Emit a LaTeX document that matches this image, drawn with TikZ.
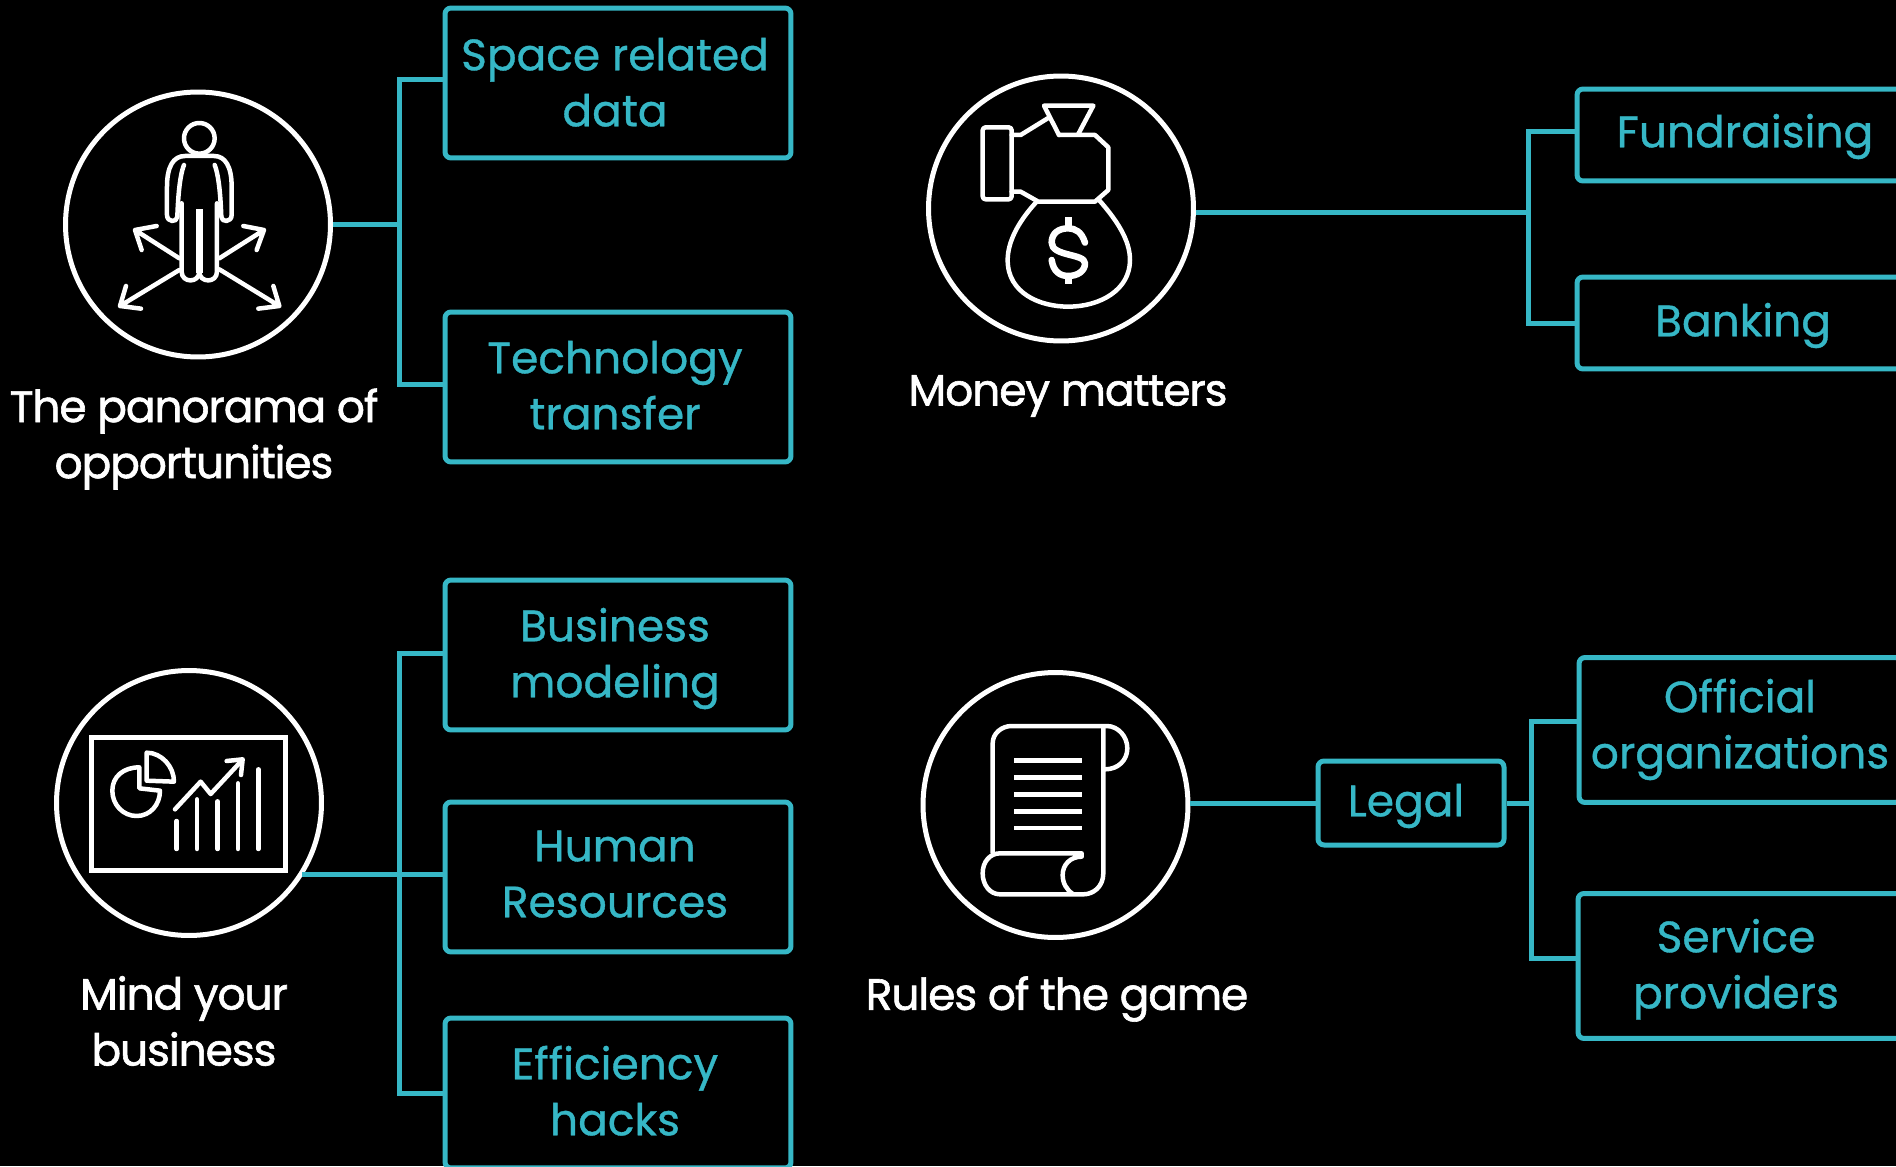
\documentclass[tikz,border=0pt]{standalone}
\usepackage{fontspec}
\setmainfont{Poppins}[RawFeature={embolden=0.8}]
\newfontfamily\capfont{Poppins}[LetterSpace=-2.5, RawFeature={embolden=1.4}]
\definecolor{teal}{HTML}{36B7C6}
\newdimen\px \px=0.02cm
% text of a box, moved right and up from the middle of the box
\newcommand{\nudged}[3]{\raisebox{#2\px}[0pt][0pt]{\makebox[0pt]{\hspace*{#1\px}\hspace*{#1\px}\begin{tabular}{@{}c@{}}#3\end{tabular}}}}
\tikzset{
	box/.style={draw=teal, text=teal, line width=0.1cm, rounded corners=0.12cm, minimum height=3cm, minimum width=6.92cm, font=\fontsize{25}{31.9}\selectfont},
	shortbox/.style={box, minimum height=1.84cm},
	ring/.style={circle, draw=white, line width=0.1cm, minimum size=5.3cm},
	caption/.style={text=white, align=center, font=\capfont\fontsize{25}{31.9}\selectfont},
	link/.style={draw=teal, line width=0.1cm},
	elbow/.style={to path={|- (\tikztotarget)}},
	icon/.style={draw=white, line width=0.09cm, line cap=round, line join=round},
}
\begin{document}
\begin{tikzpicture}[x=0.02cm, y=-0.02cm]
\fill[black] (0,0) rectangle (1896,1166);
\useasboundingbox (0,0) rectangle (1896,1166);
\clip (0,0) rectangle (1896,1166);

\node[ring] (panorama) at (198,224.5) {};
\node[ring] (money) at (1061,208.5) {};
\node[ring] (mind) at (189,803) {};
\node[ring] (rules) at (1055.5,805) {};

\node[caption] (panoramaText) at (194,439) {The panorama of\\opportunities};
\node[caption] (moneyText) at (1068,396) {Money matters};
\node[caption] (mindText) at (184,1021) {Mind your\\business};
\node[caption] (rulesText) at (1057,999) {Rules of the game};

\node[box] (space) at (618,83) {\nudged{-3}{-15}{Space related\\data}};
\node[box] (tech) at (618,387) {\nudged{-3}{-14}{Technology\\transfer}};
\node[box] (modeling) at (618,655) {\nudged{-3}{-14}{Business\\modeling}};
\node[box] (human) at (618,877) {\nudged{-3}{-12}{Human\\Resources}};
\node[box] (hacks) at (618,1093) {\nudged{-3}{-14}{Efficiency\\hacks}};
\node[shortbox, minimum width=6.72cm] (funds) at (1745,135) {\nudged{0}{-12}{Fundraising}};
\node[shortbox, minimum width=6.6cm] (banking) at (1742,323) {\nudged{1}{-13}{Banking}};
\node[box, minimum height=2.9cm, minimum width=6.44cm] (official) at (1740,730) {\nudged{0}{-10}{Official\\organizations}};
\node[box, minimum height=2.9cm, minimum width=6.56cm] (service) at (1742,966) {\nudged{-6}{-14}{Service\\providers}};
\node[shortbox, minimum height=1.68cm, minimum width=3.72cm] (legal) at (1411,803) {\nudged{-5}{-13}{Legal}};

\coordinate (panoramaJoin) at (399,224);
\coordinate (mindStart) at (302,874);
\coordinate (mindJoin) at (399,874);
\coordinate (moneyJoin) at (1528,212);
\coordinate (legalJoin) at (1531.5,803);

\path[link]
(panoramaJoin -| panorama.east) edge (panoramaJoin)
(panoramaJoin) edge[elbow] ([yshift=0.07cm]space.west)
(panoramaJoin) edge[elbow] ([yshift=0.05cm]tech.west)
(mindStart) edge (mindJoin)
(mindJoin) edge (human.west |- mindJoin)
(mindJoin) edge[elbow] ([yshift=0.04cm]modeling.west)
(mindJoin) edge[elbow] (hacks.west)
(moneyJoin -| money.east) edge (moneyJoin)
(moneyJoin) edge[elbow] ([yshift=0.07cm]funds.west)
(moneyJoin) edge[elbow] (banking.west)
(legal.west -| rules.east) edge (legal.west)
(legal.east) edge (legalJoin)
(legalJoin) edge[elbow] ([yshift=0.166cm]official.west)
(legalJoin) edge[elbow] ([yshift=0.16cm]service.west)
;

% person
\begin{scope}[shift={(40,70)}, x=0.02cm/3, y=-0.02cm/3]
\draw[icon] (478,205) circle [radius=46];
\draw[icon] (432,285) .. controls (418,320) and (414,390) .. (412,440) .. controls (412,458) and (381,458) .. (381,435) -- (381,350) .. controls (381,290) and (400,258) .. (435,258) -- (522,258) .. controls (556,258) and (575,290) .. (575,350) -- (575,435) .. controls (575,458) and (544,458) .. (544,440) .. controls (542,390) and (538,320) .. (524,285);
\draw[icon] (425,400) -- (425,605) .. controls (425,640) and (478,640) .. (478,605) .. controls (478,640) and (531,640) .. (531,605) -- (531,400);
\fill[white] (467,418) rectangle (490,610);
\draw[icon] (418,565) -- (285,480) (350,468) -- (285,480) -- (305,540);
\draw[icon] (538,565) -- (672,480) (610,468) -- (672,480) -- (650,540);
\draw[icon] (418,600) -- (240,708) (258,648) -- (240,708) -- (303,716);
\draw[icon] (538,598) -- (718,708) (700,648) -- (718,708) -- (655,716);
\end{scope}

% money bag
\begin{scope}[shift={(910,60)}, x=0.02cm/3, y=-0.02cm/3]
\draw[icon, rounded corners=0.06cm] (218,202) rectangle (305,418);
\draw[icon] (447,225) -- (402,137) -- (550,137) -- (505,222);
\draw[icon] (305,225) -- (332,225) -- (418,172);
\draw[icon] (447,225) -- (555,225) -- (595,262) -- (595,390) -- (555,425) -- (385,425) -- (332,395) -- (305,395);
\draw[icon] (380,425) .. controls (320,490) and (293,550) .. (293,600) .. controls (293,700) and (390,740) .. (475,740) .. controls (570,740) and (660,690) .. (660,600) .. controls (660,540) and (620,480) .. (567,420);
\draw[icon, line width=0.13cm] (525,548) .. controls (515,515) and (495,505) .. (475,505) .. controls (445,505) and (425,520) .. (425,548) .. controls (425,590) and (525,580) .. (525,610) .. controls (525,635) and (500,648) .. (475,648) .. controls (450,648) and (430,635) .. (425,600);
\draw[icon, line width=0.13cm, line cap=butt] (475,472) -- (475,505) (475,648) -- (475,672);
\end{scope}

% chart
\begin{scope}[shift={(40,660)}, x=0.02cm/3, y=-0.02cm/3]
\draw[icon, line width=0.1cm, line cap=butt, line join=miter] (155,232) rectangle (738,632);
\draw[icon] (298,322) .. controls (250,322) and (217,350) .. (217,392) .. controls (217,435) and (250,468) .. (290,468) .. controls (330,468) and (360,435) .. (360,392) -- (298,385) -- cycle;
\draw[icon] (320,278) -- (320,362) -- (402,365) .. controls (402,320) and (365,278) .. (320,278);
\draw[icon] (405,448) -- (482,365) -- (512,402) -- (605,302);
\draw[icon] (560,303) -- (608,298) -- (603,345);
\foreach \barx/\bartop in {410/483, 471/418, 533/424, 594/370, 655/328}
	\draw[icon] (\barx,\bartop) -- (\barx,567);
\end{scope}

% scroll
\begin{scope}[shift={(910,660)}, x=0.02cm/3, y=-0.02cm/3]
\draw[icon] (248,578) -- (248,250) .. controls (248,220) and (275,198) .. (305,198) -- (590,198) .. controls (625,198) and (652,230) .. (652,265) .. controls (652,300) and (625,328) .. (585,328);
\draw[icon] (580,205) -- (580,640) .. controls (580,680) and (550,703) .. (520,703) -- (270,703) .. controls (240,703) and (218,675) .. (218,640) .. controls (218,605) and (240,580) .. (270,580) -- (515,580) -- (515,590) .. controls (480,590) and (458,615) .. (458,645) .. controls (458,670) and (470,690) .. (490,703);
\foreach \liney in {302, 352, 403, 454, 504}
	\draw[icon, line cap=butt] (312,\liney) -- (517,\liney);
\end{scope}
\end{tikzpicture}
\end{document}
